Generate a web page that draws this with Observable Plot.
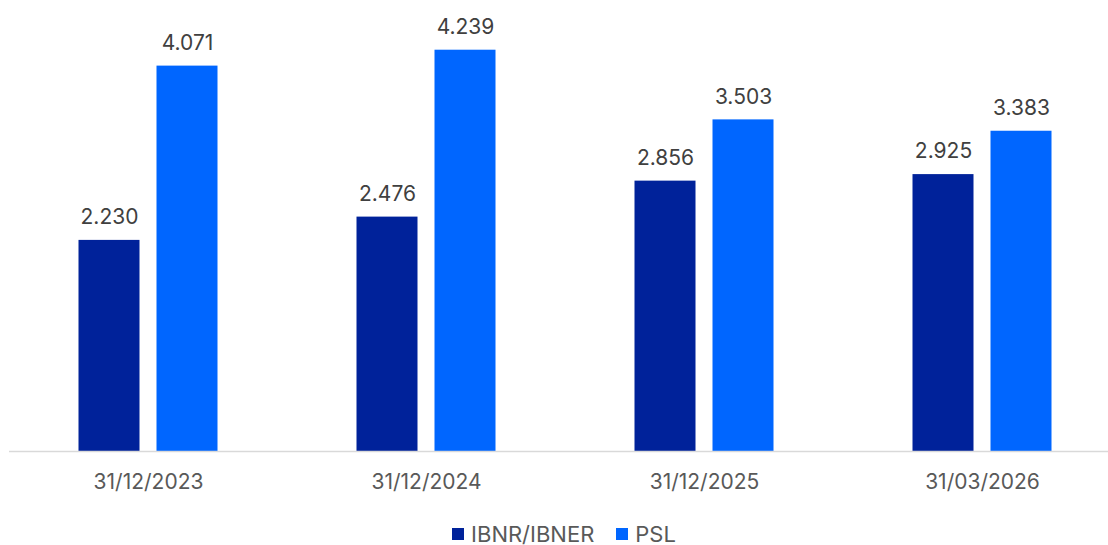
<!DOCTYPE html>
<html><head><meta charset="utf-8">
<script src="https://cdn.jsdelivr.net/npm/d3@7"></script>
<script src="https://cdn.jsdelivr.net/npm/@observablehq/plot@0.6"></script>
<style>
html,body{margin:0;padding:0;background:#fff;overflow:hidden;}
#chart svg{display:block;}
#legend .leg-swatches{font-family:Inter,sans-serif !important;font-size:22px !important;color:#595959 !important;margin:0 !important;}
#legend .leg-swatches-wrap{justify-content:center !important;min-height:0 !important;height:24px;margin-top:9px !important;padding-left:20px;}
#legend .leg-swatch{margin-right:22px !important;}
#legend .leg-swatch:last-child{margin-right:0 !important;}
#legend .leg-swatch > svg{margin-right:7px !important;}
</style></head><body>
<div id="chart"></div>
<div id="legend"></div>
<script>
const dates = ["31/12/2023", "31/12/2024", "31/12/2025", "31/03/2026"];
const series = ["IBNR/IBNER", "PSL"];
const ibnrValues = [2230, 2476, 2856, 2925];
const pslValues = [4071, 4239, 3503, 3383];
const colors = ["#00229a", "#0066ff"];

const data = dates.flatMap((d, i) => [
  {date: d, series: series[0], value: ibnrValues[i]},
  {date: d, series: series[1], value: pslValues[i]}
]);
const fmt = d3.formatLocale({decimal: ",", thousands: ".", grouping: [3], currency: ["", "€"]}).format(",d");

const chart = Plot.plot({
  width: 1108, height: 512,
  marginTop: 25, marginBottom: 61, marginLeft: 8.5, marginRight: 0,
  fx: {domain: dates, range: [8.5, 1121], padding: 0, axis: "bottom", tickSize: 0, tickPadding: 23, label: null},
  x: {domain: series, paddingInner: 0.215, paddingOuter: 0.868, axis: null},
  y: {domain: [0, 4500], axis: null},
  color: {domain: series, range: colors},
  style: {fontFamily: "Inter, sans-serif", fontSize: "21px", color: "#595959", background: "#fff"},
  marks: [
    Plot.barY(data, {fx: "date", x: "series", y: "value", fill: "series"}),
    Plot.ruleY([0], {stroke: "#d9d9d9", strokeWidth: 1.5}),
    Plot.text(data, {fx: "date", x: "series", y: "value", text: d => fmt(d.value), dy: -23, fill: "#404040", fontSize: 21})
  ]
});
document.getElementById("chart").append(chart);

const legend = Plot.legend({
  legend: "swatches",
  color: {type: "ordinal", domain: series, range: colors},
  swatchSize: 12,
  className: "leg"
});
document.getElementById("legend").append(legend);
</script>
</body></html>
